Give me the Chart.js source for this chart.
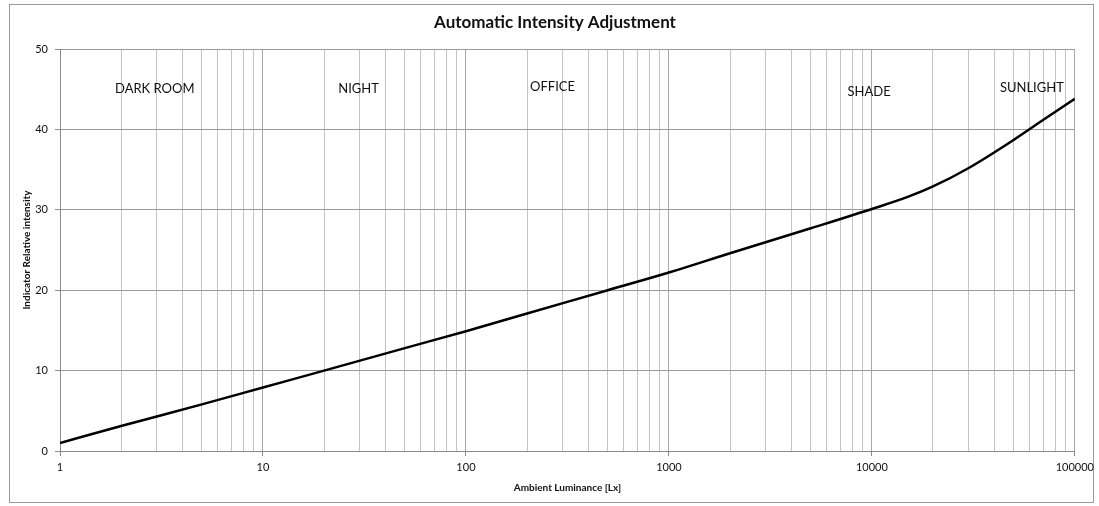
<!DOCTYPE html>
<html>
<head>
<meta charset="utf-8">
<script src="https://cdn.jsdelivr.net/npm/chart.js@4.4.1/dist/chart.umd.min.js"></script>
<style>
  html, body { margin: 0; padding: 0; background: #fff; }
  #wrap { position: relative; width: 1099px; height: 506px; }
  #frame { position: absolute; left: 9px; top: 4px; width: 1085px; height: 499px; border: 1px solid #9a9a9a; box-sizing: border-box; }
  canvas { position: absolute; left: 0; top: 0; }
</style>
</head>
<body>
<div id="wrap">
  <div id="frame"></div>
  <canvas id="intensityChart" width="1099" height="506"></canvas>
</div>
<script>
// 曲線資料 (照片讀值)
let luxValues = [1, 2, 5, 10, 20, 50, 100, 200, 500, 1000, 2000, 5000, 10000, 15000, 20000, 30000, 50000, 70000, 100000];
let intensityValues = [1.0, 3.1, 5.8, 7.9, 10.0, 12.8, 14.9, 17.1, 20.0, 22.2, 24.6, 27.7, 30.1, 31.6, 32.9, 35.2, 38.7, 41.2, 43.8];

// 區域標籤
let zoneNames = ['DARK ROOM', 'NIGHT', 'OFFICE', 'SHADE', 'SUNLIGHT'];
let zoneLux = [2.93, 29.6, 267, 9690, 61400];
let zoneLevel = [45.1, 45.1, 45.3, 44.7, 45.2];

// 刻度
let yTicks = [0, 10, 20, 30, 40, 50];
let decades = [1, 10, 100, 1000, 10000, 100000];

let chartTitle = 'Automatic Intensity Adjustment';

function isDecade(v) {
  return decades.indexOf(v) >= 0;
}

// 標題與區域標籤外掛
const zoneLabels = {
  id: 'zoneLabels',
  afterDatasetsDraw(chart) {
    const ctx = chart.ctx;
    const xs = chart.scales.x, ys = chart.scales.y;
    ctx.save();
    ctx.fillStyle = '#111';
    ctx.textAlign = 'center';
    ctx.textBaseline = 'middle';
    ctx.font = 'bold 17px Lato';
    ctx.fillText(chartTitle, 555, 23);
    ctx.font = '13px Lato';
    zoneNames.forEach((name, i) => {
      ctx.fillText(name, xs.getPixelForValue(zoneLux[i]), ys.getPixelForValue(zoneLevel[i]));
    });
    ctx.restore();
  }
};

let chartEl = document.querySelector('#intensityChart');
new Chart(chartEl, {
  type: 'line',
  data: {
    datasets: [
      {
        data: luxValues.map((v, i) => ({ x: v, y: intensityValues[i] })),
        borderColor: '#000',
        borderWidth: 2.5,
        pointRadius: 0,
        cubicInterpolationMode: 'monotone',
        fill: false
      }
    ]
  },
  options: {
    responsive: false,
    animation: false,
    layout: { padding: { left: 10, right: 23, top: 49, bottom: 0 } },
    plugins: {
      legend: { display: false },
      tooltip: { enabled: false },
      title: { display: false }
    },
    scales: {
      x: {
        type: 'logarithmic',
        min: 1,
        max: 100000,
        afterBuildTicks(scale) {
          let list = [];
          for (let d = 0; d < 5; d++) {
            for (let m = 1; m <= 9; m++) list.push({ value: m * Math.pow(10, d) });
          }
          list.push({ value: 100000 });
          scale.ticks = list;
        },
        afterFit(scale) { scale.height = 55; },
        ticks: {
          autoSkip: false,
          maxRotation: 0,
          padding: 5,
          color: '#111',
          font: { family: 'Lato', size: 11 },
          callback: (v) => isDecade(v) ? String(v) : ''
        },
        grid: {
          color: (c) => isDecade(c.tick.value) ? '#a8a8a8' : '#c4c4c4',
          tickColor: (c) => isDecade(c.tick.value) ? '#8a8a8a' : 'rgba(0,0,0,0)',
          tickLength: 5
        },
        border: { color: '#8a8a8a' },
        title: {
          display: true,
          text: 'Ambient Luminance [Lx]',
          color: '#111',
          font: { family: 'Lato', size: 10, weight: 'bold', lineHeight: 1.2 },
          padding: { top: 0, bottom: 12 }
        }
      },
      y: {
        min: 0,
        max: 50,
        afterBuildTicks(scale) {
          scale.ticks = yTicks.map(v => ({ value: v }));
        },
        afterFit(scale) { scale.width = 50; },
        ticks: {
          padding: 7,
          color: '#111',
          font: { family: 'Lato', size: 11 }
        },
        grid: {
          color: '#9a9a9a',
          tickColor: '#8a8a8a',
          tickLength: 5
        },
        border: { color: '#8a8a8a' },
        title: {
          display: true,
          text: 'Indicator Relative intensity',
          color: '#111',
          font: { family: 'Lato', size: 10, weight: 'bold', lineHeight: 1.2 },
          padding: { top: 11, bottom: 0 }
        }
      }
    }
  },
  plugins: [zoneLabels]
});
</script>
</body>
</html>
